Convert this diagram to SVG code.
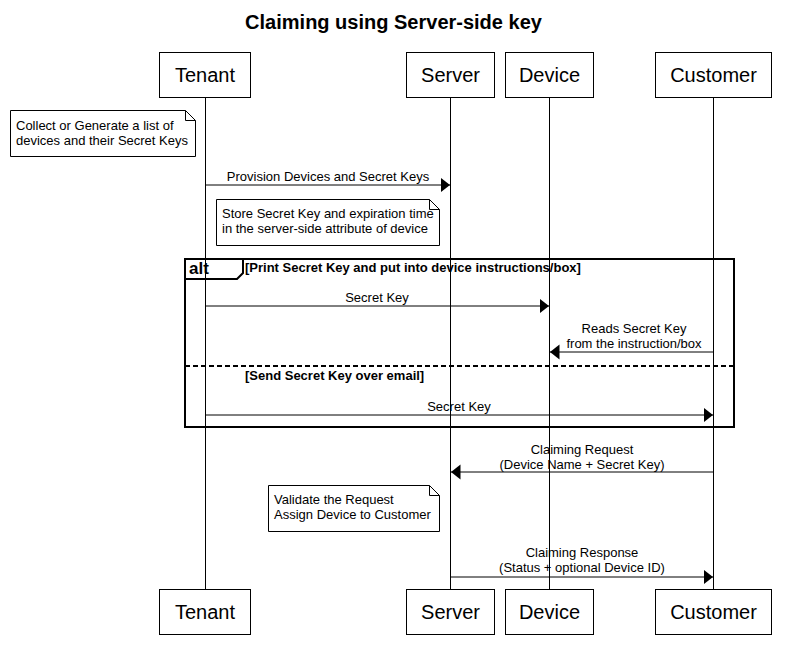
<svg xmlns="http://www.w3.org/2000/svg" width="786" height="658" viewBox="0 0 786 658">
<style>
text{font-family:"Liberation Sans",Arial,sans-serif;fill:#000}
.title{font-size:20px;font-weight:bold}
.pt{font-size:20px}
.lbl{font-size:13px}
.guard{font-size:13px;font-weight:bold}
.alt{font-size:17px;font-weight:bold}
.box{fill:#fff;stroke:#000;stroke-width:1}
.life{stroke:#000;stroke-width:1;fill:none}
.msg{stroke:#000;stroke-width:1;fill:none;marker-end:url(#ah)}
.note{fill:#fff;stroke:#000;stroke-width:1}
.fold{fill:none;stroke:#000;stroke-width:1}
.frame{fill:none;stroke:#000;stroke-width:2}
</style>
<defs>
<marker id="ah" markerUnits="userSpaceOnUse" markerWidth="10" markerHeight="16" viewBox="0 0 10 16" refX="9.5" refY="8" orient="auto">
<path d="M0,0.5 L9.5,8 L0,15.5 Z" fill="#000"/>
</marker>
</defs>
<rect width="786" height="658" fill="#fff"/>
<text class="title" x="393.5" y="29" text-anchor="middle">Claiming using Server-side key</text>

<g id="lifelines">
<line class="life" x1="205.5" y1="97" x2="205.5" y2="589"/>
<line class="life" x1="450.5" y1="97" x2="450.5" y2="589"/>
<line class="life" x1="549.5" y1="97" x2="549.5" y2="589"/>
<line class="life" x1="713.5" y1="97" x2="713.5" y2="589"/>
</g>

<g id="tenant">
<rect class="box" x="159.5" y="52.5" width="91" height="45"/>
<text class="pt" x="205" y="82" text-anchor="middle">Tenant</text>
<rect class="box" x="159.5" y="589.5" width="91" height="45"/>
<text class="pt" x="205" y="619" text-anchor="middle">Tenant</text>
</g>
<g id="server">
<rect class="box" x="406.5" y="52.5" width="88" height="45"/>
<text class="pt" x="450.5" y="82" text-anchor="middle">Server</text>
<rect class="box" x="406.5" y="589.5" width="88" height="45"/>
<text class="pt" x="450.5" y="619" text-anchor="middle">Server</text>
</g>
<g id="device">
<rect class="box" x="505.5" y="52.5" width="88" height="45"/>
<text class="pt" x="549.5" y="82" text-anchor="middle">Device</text>
<rect class="box" x="505.5" y="589.5" width="88" height="45"/>
<text class="pt" x="549.5" y="619" text-anchor="middle">Device</text>
</g>
<g id="customer">
<rect class="box" x="655.5" y="52.5" width="116" height="45"/>
<text class="pt" x="713.5" y="82" text-anchor="middle">Customer</text>
<rect class="box" x="655.5" y="589.5" width="116" height="45"/>
<text class="pt" x="713.5" y="619" text-anchor="middle">Customer</text>
</g>

<g id="note1">
<path class="note" d="M10.5,110.5 L185.5,110.5 L195.5,120.5 L195.5,156.5 L10.5,156.5 Z"/>
<path class="fold" d="M185.5,110.5 L185.5,120.5 L195.5,120.5"/>
<text class="lbl" x="16" y="130">Collect or Generate a list of</text>
<text class="lbl" x="16" y="145">devices and their Secret Keys</text>
</g>
<g id="note2">
<path class="note" d="M216.5,199.5 L429.5,199.5 L439.5,209.5 L439.5,245.5 L216.5,245.5 Z"/>
<path class="fold" d="M429.5,199.5 L429.5,209.5 L439.5,209.5"/>
<text class="lbl" x="222" y="218">Store Secret Key and expiration time</text>
<text class="lbl" x="222" y="233">in the server-side attribute of device</text>
</g>
<g id="note3">
<path class="note" d="M268.5,485.5 L429.5,485.5 L439.5,495.5 L439.5,531.5 L268.5,531.5 Z"/>
<path class="fold" d="M429.5,485.5 L429.5,495.5 L439.5,495.5"/>
<text class="lbl" x="274" y="504">Validate the Request</text>
<text class="lbl" x="274" y="519">Assign Device to Customer</text>
</g>

<g id="alt-frame">
<rect class="frame" x="185" y="259" width="549" height="168"/>
<path class="frame" d="M185,259 L243,259 L243,273 L237,279 L185,279"/>
<text class="alt" x="189" y="274">alt</text>
<text class="guard" x="245" y="272">[Print Secret Key and put into device instructions/box]</text>
<line x1="185" y1="366" x2="734" y2="366" stroke="#000" stroke-width="2" stroke-dasharray="5,3"/>
<text class="guard" x="245" y="380">[Send Secret Key over email]</text>
</g>

<g id="connectors">
<line class="msg" x1="205.5" y1="185" x2="450" y2="185"/>
<text class="lbl" x="328" y="181" text-anchor="middle">Provision Devices and Secret Keys</text>
<line class="msg" x1="205.5" y1="306" x2="549" y2="306"/>
<text class="lbl" x="377" y="302" text-anchor="middle">Secret Key</text>
<line class="msg" x1="713.5" y1="352" x2="550" y2="352"/>
<text class="lbl" x="634" y="333" text-anchor="middle">Reads Secret Key</text>
<text class="lbl" x="634" y="348" text-anchor="middle">from the instruction/box</text>
<line class="msg" x1="205.5" y1="415" x2="713" y2="415"/>
<text class="lbl" x="459" y="411" text-anchor="middle">Secret Key</text>
<line class="msg" x1="713.5" y1="472" x2="451" y2="472"/>
<text class="lbl" x="582" y="454" text-anchor="middle">Claiming Request</text>
<text class="lbl" x="582" y="469" text-anchor="middle">(Device Name + Secret Key)</text>
<line class="msg" x1="450.5" y1="577" x2="713" y2="577"/>
<text class="lbl" x="582" y="557" text-anchor="middle">Claiming Response</text>
<text class="lbl" x="582" y="572" text-anchor="middle">(Status + optional Device ID)</text>
</g>
</svg>
